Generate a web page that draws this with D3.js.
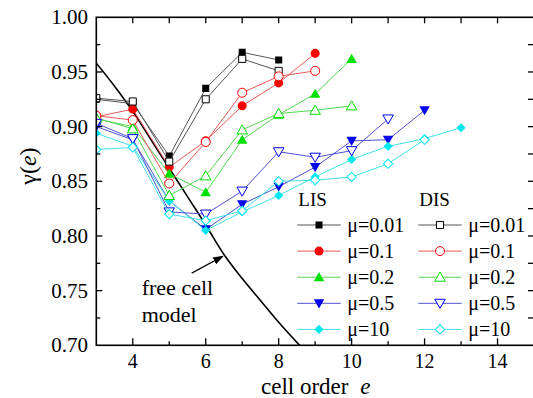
<!DOCTYPE html>
<html>
<head>
<meta charset="utf-8">
<script src="https://cdn.jsdelivr.net/npm/d3@7"></script>
<style>
  body { margin: 0; background: #fff; }
  text { font-family: "Liberation Serif", "DejaVu Serif", serif; fill: #000; }
</style>
</head>
<body>
<div id="chart"></div>
<script>
// cell orders e (x values)
const cellOrders = [3, 4, 5, 6, 7, 8, 9, 10, 11, 12, 13];

// LIS series (filled markers), values start at e = 3
const lis001 = [0.925, 0.921, 0.873, 0.935, 0.968, 0.961];
const lis01 = [0.909, 0.916, 0.863, 0.887, 0.919, 0.940, 0.967];
const lis02 = [0.907, 0.900, 0.857, 0.840, 0.888, 0.911, 0.930, 0.962];
const lis05 = [0.900, 0.888, 0.832, 0.806, 0.829, 0.845, 0.863, 0.887, 0.888, 0.915];
const lis10 = [0.894, 0.882, 0.832, 0.805, 0.822, 0.837, 0.854, 0.870, 0.882, 0.889, 0.899];

// DIS series (open markers)
const dis001 = [0.926, 0.923, 0.868, 0.925, 0.962, 0.951];
const dis01 = [0.910, 0.906, 0.848, 0.886, 0.931, 0.946, 0.951];
const dis02 = [0.908, 0.898, 0.837, 0.855, 0.897, 0.912, 0.915, 0.919];
const dis05 = [0.903, 0.889, 0.822, 0.820, 0.841, 0.877, 0.872, 0.878, 0.907];
const dis10 = [0.879, 0.881, 0.820, 0.814, 0.823, 0.850, 0.851, 0.854, 0.866, 0.888];

// free cell model curve
const freeCellE = [3, 3.5, 4, 4.5, 5, 5.5, 6, 6.5, 7, 7.5, 8, 8.6];
const freeCellG = [0.958, 0.937, 0.914, 0.888, 0.862, 0.836, 0.810, 0.783, 0.761, 0.741, 0.721, 0.699];

const muLabels = ["\u03bc=0.01", "\u03bc=0.1", "\u03bc=0.2", "\u03bc=0.5", "\u03bc=10"];
const xTicks = [4, 6, 8, 10, 12, 14];
const yTicks = [0.70, 0.75, 0.80, 0.85, 0.90, 0.95, 1.00];

const markerColors = ["#000000", "#ff0000", "#00e000", "#0000f0", "#00e8f0"];
const lineColors = ["#555555", "#e85858", "#50d850", "#5050d0", "#40e0e8"];
const shapes = ["square", "circle", "triangle", "down", "diamond"];

const lisData = [lis001, lis01, lis02, lis05, lis10];
const disData = [dis001, dis01, dis02, dis05, dis10];

var width = 533, height = 398;

var x = d3.scaleLinear().domain([3, 15]).range([96.3, 534]);
var y = d3.scaleLinear().domain([0.7, 1.0]).range([345.3, 17.3]);

var svg = d3
  .select("#chart")
  .append("svg")
  .attr("width", width)
  .attr("height", height);

svg.append("defs").append("clipPath").attr("id", "clip")
  .append("rect")
  .attr("x", x(3)).attr("y", y(1.0))
  .attr("width", x(15) - x(3)).attr("height", y(0.7) - y(1.0));

function symbolPath(shape) {
  if (shape == "square") return d3.symbol(d3.symbolSquare, 50)();
  if (shape == "circle") return d3.symbol(d3.symbolCircle, 64)();
  if (shape == "triangle" || shape == "down") return d3.symbol(d3.symbolTriangle, 48)();
  return d3.symbol(d3.symbolSquare, 42)();
}
function symbolRotate(shape) {
  if (shape == "down") return 180;
  if (shape == "diamond") return 45;
  return 0;
}
function symYOffset(shape) {
  // d3 triangles sit off-centre; nudge them to the point
  if (shape == "triangle") return 1;
  if (shape == "down") return -1;
  return 0;
}

var line = d3
  .line()
  .x((d) => x(d.e))
  .y((d) => y(d.v));

function toPoints(vals) {
  return vals.map((v, i) => ({ e: cellOrders[i], v: v }));
}

var plot = svg.append("g").attr("clip-path", "url(#clip)");

// free cell model
plot
  .append("path")
  .datum(freeCellE.map((e, i) => ({ e: e, v: freeCellG[i] })))
  .attr("fill", "none")
  .attr("stroke", "#000")
  .attr("stroke-width", 1.6)
  .attr("d", line.curve(d3.curveMonotoneX));
line.curve(d3.curveLinear);

function drawSeries(vals, k, open) {
  var pts = toPoints(vals);
  plot
    .append("path")
    .datum(pts)
    .attr("fill", "none")
    .attr("stroke", lineColors[k])
    .attr("stroke-width", 1)
    .attr("d", line);
  plot
    .selectAll(".m" + k + (open ? "o" : "f"))
    .data(pts)
    .enter()
    .append("path")
    .attr("d", symbolPath(shapes[k]))
    .attr("transform", (d) =>
      "translate(" + x(d.e) + "," + (y(d.v) + symYOffset(shapes[k])) + ") rotate(" + symbolRotate(shapes[k]) + ")")
    .attr("fill", open ? "#fff" : markerColors[k])
    .attr("stroke", open ? markerColors[k] : "none")
    .attr("stroke-width", 1);
}

lisData.forEach((vals, k) => drawSeries(vals, k, false));
disData.forEach((vals, k) => drawSeries(vals, k, true));

// frame and ticks
svg.append("rect")
  .attr("x", x(3)).attr("y", y(1.0))
  .attr("width", x(15) - x(3)).attr("height", y(0.7) - y(1.0))
  .attr("fill", "none").attr("stroke", "#000").attr("stroke-width", 1.6);

var xMinor = d3.range(4, 15, 1);
svg.selectAll(".xt")
  .data(xMinor)
  .enter()
  .append("line")
  .attr("x1", (d) => x(d)).attr("x2", (d) => x(d))
  .attr("y1", y(0.7)).attr("y2", (d) => y(0.7) - (d % 2 == 0 ? 7 : 4))
  .attr("stroke", "#000").attr("stroke-width", 1.3);
svg.selectAll(".xtt")
  .data(xMinor)
  .enter()
  .append("line")
  .attr("x1", (d) => x(d)).attr("x2", (d) => x(d))
  .attr("y1", y(1.0)).attr("y2", y(1.0) + 6)
  .attr("stroke", "#000").attr("stroke-width", 1.3);

var yMinor = d3.range(0.725, 1.0, 0.025);
svg.selectAll(".yt")
  .data(yMinor)
  .enter()
  .append("line")
  .attr("y1", (d) => y(d)).attr("y2", (d) => y(d))
  .attr("x1", x(3)).attr("x2", (d, i) => x(3) + (i % 2 == 1 ? 6 : 4))
  .attr("stroke", "#000").attr("stroke-width", 1.3);
svg.selectAll(".ytr")
  .data(yMinor)
  .enter()
  .append("line")
  .attr("y1", (d) => y(d)).attr("y2", (d) => y(d))
  .attr("x1", x(15)).attr("x2", x(15) - 6)
  .attr("stroke", "#000").attr("stroke-width", 1.3);

svg.selectAll(".xl")
  .data(xTicks)
  .enter()
  .append("text")
  .attr("x", (d) => x(d))
  .attr("y", 368)
  .attr("text-anchor", "middle")
  .style("font-size", "20px")
  .text((d) => d);

svg.selectAll(".yl")
  .data(yTicks)
  .enter()
  .append("text")
  .attr("x", 88)
  .attr("y", (d) => y(d) + 7)
  .attr("text-anchor", "end")
  .style("font-size", "21px")
  .text((d) => d3.format(".2f")(d));

var xt = svg.append("text")
  .attr("x", 261)
  .attr("y", 394)
  .style("font-size", "23px");
xt.append("tspan").text("cell order ");
xt.append("tspan").attr("dx", 6).style("font-style", "italic").text("e");

var yt = svg.append("text")
  .attr("transform", "translate(36,166) rotate(-90)")
  .attr("text-anchor", "middle")
  .style("font-size", "24px");
yt.append("tspan").text("\u03b3(");
yt.append("tspan").style("font-style", "italic").text("e");
yt.append("tspan").text(")");

// annotation
svg.append("defs").append("marker")
  .attr("id", "arrow")
  .attr("viewBox", "0 0 10 10")
  .attr("refX", 9).attr("refY", 5)
  .attr("markerWidth", 9).attr("markerHeight", 9)
  .attr("orient", "auto")
  .append("path")
  .attr("d", "M0,1.5 L10,5 L0,8.5 Z")
  .attr("fill", "#000");
svg.append("line")
  .attr("x1", x(5.615)).attr("y1", y(0.766))
  .attr("x2", x(6.47)).attr("y2", y(0.7815))
  .attr("stroke", "#000").attr("stroke-width", 1.2)
  .attr("marker-end", "url(#arrow)");
svg.append("text").attr("x", x(4.245)).attr("y", y(0.746))
  .style("font-size", "22px").text("free cell");
svg.append("text").attr("x", x(4.245)).attr("y", y(0.7215))
  .style("font-size", "22px").text("model");

// legend
var legCols = [
  { title: "LIS", x0: 297.3, data: lisData, open: false },
  { title: "DIS", x0: 418.3, data: disData, open: true },
];
legCols.forEach((col) => {
  svg.append("text").attr("x", col.x0 + 1).attr("y", 206)
    .style("font-size", "19px").text(col.title);
  muLabels.forEach((lab, k) => {
    var yy = 225 + k * 26.1;
    svg.append("line")
      .attr("x1", col.x0).attr("x2", col.x0 + 43.4)
      .attr("y1", yy).attr("y2", yy)
      .attr("stroke", lineColors[k]).attr("stroke-width", 1);
    svg.append("path")
      .attr("d", symbolPath(shapes[k]))
      .attr("transform", "translate(" + (col.x0 + 21.7) + "," + (yy + symYOffset(shapes[k])) + ") rotate(" + symbolRotate(shapes[k]) + ")")
      .attr("fill", col.open ? "#fff" : markerColors[k])
      .attr("stroke", col.open ? markerColors[k] : "none");
    svg.append("text").attr("x", col.x0 + 50).attr("y", yy + 7)
      .style("font-size", "20px").text(lab);
  });
});
</script>
</body>
</html>
